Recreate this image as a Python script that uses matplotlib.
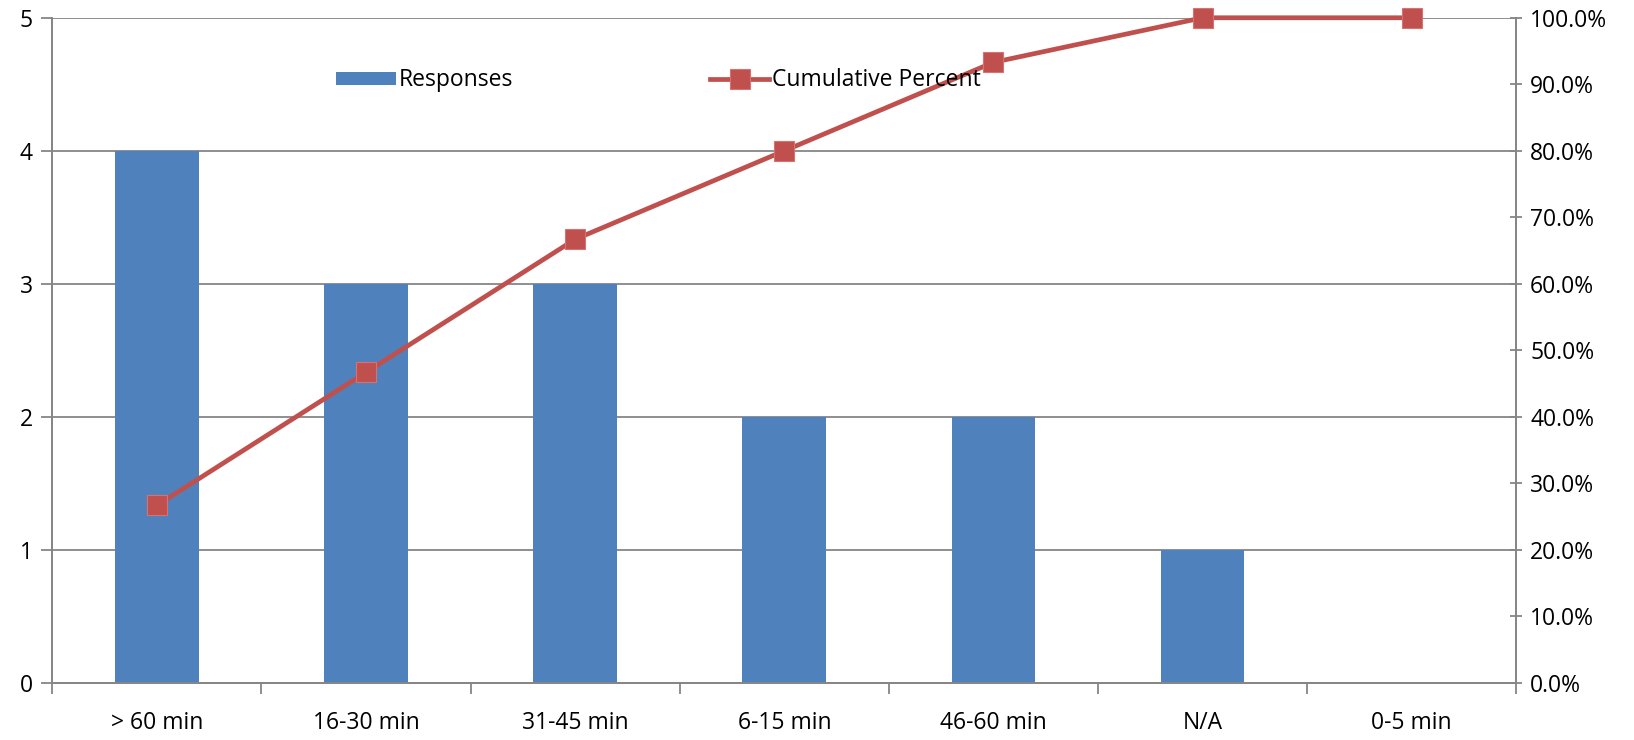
import matplotlib
matplotlib.use("Agg")
import matplotlib.pyplot as plt
import numpy as np
from matplotlib.ticker import FuncFormatter

categories = ['> 60 min', '16-30 min', '31-45 min', '6-15 min', '46-60 min', 'N/A', '0-5 min']
responses = [4, 3, 3, 2, 2, 1, 0]
cum_percent = [26.7, 46.7, 66.7, 80.0, 93.3, 100.0, 100.0]

bar_color = '#4F81BD'
line_color = '#C0504D'
axis_color = '#868686'

plt.rcParams['font.family'] = ['Open Sans', 'DejaVu Sans']

fig = plt.figure(figsize=(16.34, 7.4), dpi=100)
ax = fig.add_axes([0.032, 0.077, 0.896, 0.899])
ax2 = ax.twinx()

x = np.arange(len(categories))
ax.bar(x, responses, 0.4, color=bar_color, label='Responses', zorder=2)
ax.set_xlim(-0.5, len(categories) - 0.5)
ax.set_ylim(0, 5)
ax.set_yticks(range(6))
ax.yaxis.grid(True, color=axis_color, linewidth=1.3, zorder=0)
ax.set_axisbelow(True)

# category labels centred, ticks at the boundaries
ax.set_xticks(x)
ax.set_xticklabels(categories, fontsize=16.5)
ax.set_xticks(np.arange(-0.5, len(categories)), minor=True)
ax.tick_params(axis='x', which='major', length=0, pad=20)
ax.tick_params(axis='x', which='minor', length=8, width=1.3, color=axis_color, direction='out')
ax.tick_params(axis='y', length=8, width=1.3, color=axis_color, labelsize=16.5, pad=6)

ax2.plot(x, cum_percent, color=line_color, linewidth=3.4, marker='s', markersize=14.5,
         markerfacecolor=line_color, markeredgecolor='#D47370', markeredgewidth=0.8,
         label='Cumulative Percent', zorder=3, clip_on=False)
ax2.set_ylim(0, 100)
ax2.set_yticks(range(0, 101, 10))
ax2.yaxis.set_major_formatter(FuncFormatter(lambda v, p: f'{v:.1f}%'))
ax2.tick_params(axis='y', length=8, width=1.3, color=axis_color, direction='inout', labelsize=16.5, pad=6)

for a in (ax, ax2):
    a.spines['top'].set_visible(False)
    for s in ('left', 'right', 'bottom'):
        a.spines[s].set_color(axis_color)
        a.spines[s].set_linewidth(1.3)

handles = ax.get_legend_handles_labels()[0] + ax2.get_legend_handles_labels()[0]
labels = ['Responses', 'Cumulative Percent']
ax2.legend(handles, labels, loc='upper left', bbox_to_anchor=(0.18, 0.955), ncol=2,
           frameon=False, fontsize=16.5, columnspacing=8.6, handlelength=2.6,
           handletextpad=0.1, handleheight=0.5)

fig.savefig('out.png', dpi=100)
